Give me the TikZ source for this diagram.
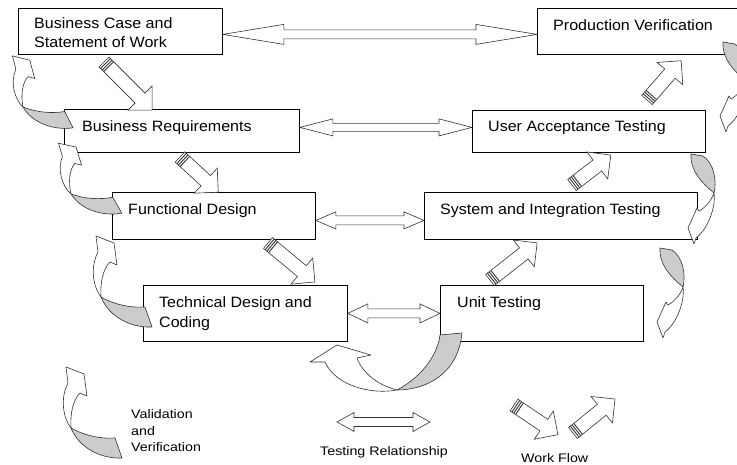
\documentclass[tikz,border=0pt]{standalone}
\usepackage{fontspec}
\newfontfamily\boxfont{Liberation Sans}[FakeStretch=1.07]
\newfontfamily\legfont{Liberation Sans}[FakeStretch=1.15]
\usetikzlibrary{calc}
\definecolor{shade}{HTML}{CCCCCC}
\definecolor{edge}{HTML}{333333}
\tikzset{
  box/.style={draw=black, line width=0.8pt, fill=white, anchor=north west, inner sep=0pt},
  mtxt/.style={anchor=base west, inner sep=0pt, font=\boxfont\fontsize{15}{18}\selectfont},
  ltxt/.style={anchor=base west, inner sep=0pt, font=\legfont\fontsize{12.4}{14}\selectfont},
  tr/.style={draw=edge, fill=white, line width=0.6pt, line join=miter},
  wf/.style={draw=edge, fill=white, line width=0.6pt},
  wfs/.style={draw=edge, line width=0.9pt},
  cv/.style={draw=edge, line width=0.6pt, line join=round},
  lcurve/.pic={
    \filldraw[cv, fill=shade] (51,30) .. controls (30,31) and (8,20) .. (0,0)
       .. controls (14,8) and (30,11) .. (44,10) -- cycle;
    \filldraw[cv, fill=white] (0,0) .. controls (-8,-10) and (-11,-30) .. (-3,-45)
       -- (-5,-61) -- (13,-54) -- (16,-32) -- (9,-35)
       .. controls (2,-28) and (-1,-14) .. (0,0) -- cycle;
  },
  rcurve/.pic={
    \filldraw[cv, fill=shade] (-23,-39) .. controls (-24,-22) and (-12,-10) .. (0,0)
       .. controls (3,-12) and (0,-30) .. (-11,-37) -- cycle;
    \filldraw[cv, fill=white] (0,0) .. controls (2,14) and (-6,36) .. (-18,45)
       -- (-20,51) -- (-26,35) -- (-17,15) -- (-15,18)
       .. controls (-8,14) and (-3,8) .. (0,0) -- cycle;
  }
}
\newcommand\wfarrow[4]{%
  \begin{scope}[shift={(#1,#2)}, rotate=#3]
    \draw[wf] (0,-7) -- ({#4-17},-7) -- ({#4-17},-17) -- (#4,0) -- ({#4-17},17)
      -- ({#4-17},7) -- (0,7) -- cycle;
    \draw[wfs] (2.2,-7) -- (2.2,7) (4.4,-7) -- (4.4,7) (6.6,-7) -- (6.6,7);
  \end{scope}}
\newcommand\dblarrow[5]{%
  \draw[tr] let \p1=(#1), \p2=(#2) in
    (\x1,\y1) -- (\x1+#3pt,\y1+#4pt) -- (\x1+#3pt,\y1+#5pt) -- (\x2-#3pt,\y1+#5pt)
    -- (\x2-#3pt,\y1+#4pt) -- (\x2,\y1) -- (\x2-#3pt,\y1-#4pt) -- (\x2-#3pt,\y1-#5pt)
    -- (\x1+#3pt,\y1-#5pt) -- (\x1+#3pt,\y1-#4pt) -- cycle;}
\begin{document}
\begin{tikzpicture}[x=1pt, y=-1pt]
\useasboundingbox (0,0) rectangle (737,465);
\fill[white] (0,0) rectangle (737,465);
\clip (0,0) rectangle (737,465);

% boxes
\node[box, minimum width=204pt, minimum height=46pt] (bc) at (18,8) {};
\node[box, minimum width=205pt, minimum height=46pt] (pv) at (537,8) {};
\node[box, minimum width=235pt, minimum height=43pt] (br) at (64,109) {};
\node[box, minimum width=233pt, minimum height=42pt] (uat) at (472,110) {};
\node[box, minimum width=203pt, minimum height=47pt] (fd) at (112,192) {};
\node[box, minimum width=273pt, minimum height=47pt] (sit) at (424,192) {};
\node[box, minimum width=204pt, minimum height=56pt] (td) at (143,285) {};
\node[box, minimum width=203pt, minimum height=56pt] (ut) at (440,285) {};

% box texts
\node[mtxt] (bct1) at (34,29) {Business Case and};
\node[mtxt] (bct2) at (34,48) {Statement of Work};
\node[mtxt] (pvt) at (553,31) {Production Verification};
\node[mtxt] (brt) at (82,132) {Business Requirements};
\node[mtxt] (uatt) at (488,132) {User Acceptance Testing};
\node[mtxt] (fdt) at (128,215) {Functional Design};
\node[mtxt] (sitt) at (440,215) {System and Integration Testing};
\node[mtxt] (tdt1) at (159,308) {Technical Design and};
\node[mtxt] (tdt2) at (159,327) {Coding};
\node[mtxt] (utt) at (457,308) {Unit Testing};

% testing relationships
\dblarrow{$(bc.east)+(0,3)$}{pv.west}{61}{10}{4.5}
\dblarrow{$(br.east)+(0,-3.5)$}{uat.west}{33}{8.5}{4}
\dblarrow{$(fd.east)+(0,4.5)$}{sit.west}{20}{8.5}{4.5}
\dblarrow{td.east}{ut.west}{20}{9.5}{4.5}

% work flow arrows
\wfarrow{104}{62}{-45}{68}
\wfarrow{180}{157}{-42.6}{52}
\wfarrow{268}{243}{-39.7}{61}
\wfarrow{490}{280}{38.2}{60}
\wfarrow{572}{185}{37.6}{49}
\wfarrow{647}{100}{49}{52}

% validation and verification arrows
\pic[xscale=0.93, yscale=0.85, rotate=6] at (23,107) {lcurve};
\pic[xscale=0.93, yscale=0.85, rotate=8] at (71,194) {lcurve};
\pic at (101,297) {lcurve};
\pic at (746,81) {rcurve};
\pic at (714,193) {rcurve};
\pic at (683,287) {rcurve};
% bottom arrow
\filldraw[cv, fill=shade] (440,335) .. controls (438,352) and (425,375) .. (397,390)
   .. controls (425,390) and (458,375) .. (462,333) -- cycle;
\filldraw[cv, fill=white] (397,390) .. controls (370,395) and (335,385) .. (325,362)
   -- (310,362) -- (337,345) -- (371,355) -- (357,358)
   .. controls (362,372) and (377,385) .. (397,390) -- cycle;

% legend
\pic at (71,428) {lcurve};
\node[ltxt] (lv1) at (131,418.5) {Validation};
\node[ltxt] (lv2) at (131,435) {and};
\node[ltxt] (lv3) at (131,451.7) {Verification};
\coordinate (tra) at (337,422);
\coordinate (trb) at (430,422);
\dblarrow{tra}{trb}{17}{9.5}{4.5}
\node[ltxt] (ltr) at (320,455) {Testing Relationship};
\wfarrow{514}{405}{-34}{53}
\wfarrow{573}{433}{39}{54}
\node[ltxt] (lwf) at (521,462) {Work Flow};
\end{tikzpicture}
\end{document}
